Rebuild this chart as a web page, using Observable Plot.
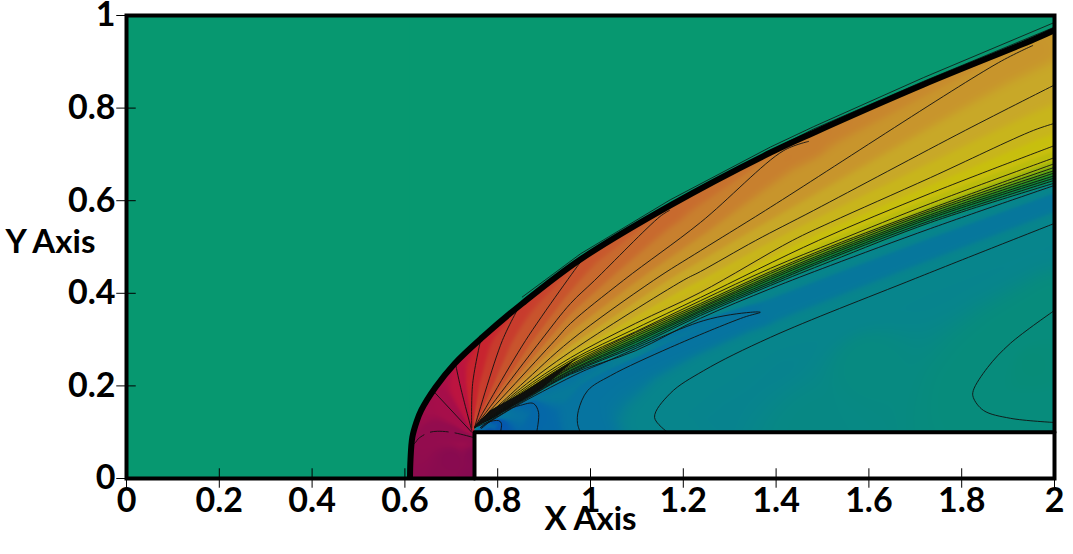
<!DOCTYPE html>
<html>
<head>
<meta charset="utf-8">
<script src="https://cdn.jsdelivr.net/npm/d3@7"></script>
<script src="https://cdn.jsdelivr.net/npm/@observablehq/plot@0.6"></script>
<style>
html,body{margin:0;padding:0;background:#fff;overflow:hidden}
svg{display:block}
</style>
</head>
<body>
<div id="chart"></div>
<script>
// ---- axes ----
const xTicks = [0,0.2,0.4,0.6,0.8,1,1.2,1.4,1.6,1.8,2];
const yTicks = [0,0.2,0.4,0.6,0.8,1];
const xTitle = "X Axis";
const yTitle = "Y Axis";

// ---- colour per contour rank ----
const ranks = [-1,0,1,2,3,4,5,6,7,8,9,10,11,12,13,14,15,16,17,18,19,20,21,22,23,24,25];
const rankColors = ["#0452b2","#0558ae","#0568a8","#0674a0","#07858c","#078c7c","#078a58","#0a8a40","#158c30","#2f9422","#509e18","#78aa10","#a0b50c","#bcbc0c","#c8bf0e","#c8b51c","#c8a828","#c8952c","#c8802e","#c86a2e","#c8542d","#c83c2d","#c8242f","#bc1440","#a60e4a","#930c4e","#860a50"];
const freeStream = "#079870";

// ---- bow shock centre line, with the field rank just behind it ----
const shockX = [0.611,0.612,0.616,0.625,0.635,0.666,0.707,0.767,0.853,0.978,1.172,1.388,1.481,1.718,1.955,2];
const shockY = [0,0.04,0.089,0.122,0.147,0.197,0.248,0.305,0.378,0.473,0.590,0.704,0.747,0.851,0.948,0.968];
const shockRank = [24.4,24.2,24,23.6,23.2,23,22,21,20,19,18,17.3,17,16.5,16,15.8];
// thin contours just ahead of the shock
const outerA = [[0.853,0.392],[0.978,0.485],[1.172,0.602],[1.388,0.716],[1.481,0.760],[1.718,0.866],[2,0.985]];
const outerB = [[1.237,0.631],[1.481,0.755],[1.718,0.858],[2,0.975]];

// ---- contours of the fan ----
const rayM2 = [[0.746,0.089],[0.705,0.099],[0.670,0.102],[0.651,0.099],[0.629,0.086],[0.623,0.078],[0.616,0.071]];
const rayM1 = [[0.744,0.100],[0.664,0.186]];
const ray0 = [[0.744,0.104],[0.720,0.197],[0.709,0.248]];
const ray1 = [[0.744,0.110],[0.746,0.205],[0.765,0.307]];
const ray2 = [[0.75,0.11],[0.81,0.298],[0.851,0.380]];
const ray3 = [[0.75,0.11],[0.86,0.298],[0.978,0.467]];
const ray4 = [[0.75,0.11],[0.893,0.298],[0.957,0.378],[1.009,0.428],[1.15,0.566],[1.17,0.579]];
const ray5 = [[0.75,0.11],[0.923,0.298],[0.957,0.335],[1.071,0.428],[1.237,0.553],[1.416,0.708],[1.47,0.728]];
const ray6 = [[0.75,0.11],[0.849,0.201],[0.957,0.298],[1.136,0.428],[1.237,0.492],[1.377,0.579],[1.879,0.898],[1.953,0.935]];
const ray7 = [[0.75,0.11],[0.849,0.194],[0.957,0.274],[1.2,0.428],[1.237,0.447],[1.356,0.514],[1.481,0.579],[1.808,0.752],[2,0.85]];
const ray8 = [[0.75,0.11],[0.849,0.189],[0.957,0.261],[1.097,0.335],[1.237,0.402],[1.435,0.514],[1.517,0.553],[1.733,0.650],[1.955,0.752],[2,0.767]];
const ray9 = [[0.75,0.11],[0.849,0.185],[0.957,0.255],[1.097,0.324],[1.237,0.391],[1.491,0.514],[1.733,0.616],[2,0.719]];
const ray10 = [[0.75,0.11],[0.849,0.181],[0.957,0.251],[1.097,0.317],[1.237,0.384],[1.388,0.454],[1.534,0.514],[1.733,0.594],[2,0.693]];

// ---- the tight bundle of contours in the shear layer ----
const bundleX = [0.75,0.784,0.849,0.957,1.097,1.237,1.388,1.517,1.733,2];
const bundle1 = [0.11,0.145,0.179,0.246,0.315,0.378,0.447,0.501,0.583,0.680];
const bundle2 = [0.11,0.143,0.177,0.243,0.311,0.374,0.443,0.497,0.579,0.672];
const bundle3 = [0.11,0.140,0.175,0.240,0.307,0.370,0.438,0.492,0.575,0.665];
const bundle4 = [0.11,0.138,0.173,0.238,0.302,0.367,0.434,0.488,0.570,0.660];
const bundle5 = [0.11,0.136,0.172,0.234,0.298,0.363,0.430,0.484,0.566,0.654];
const bundle6 = [0.11,0.134,0.170,0.232,0.294,0.360,0.425,0.479,0.562,0.649];
const bundle7 = [0.11,0.132,0.168,0.229,0.289,0.356,0.421,0.475,0.557,0.644];
const bundle8 = [0.11,0.130,0.166,0.227,0.285,0.352,0.417,0.469,0.553,0.638];
const bundle9 = [0.11,0.125,0.164,0.225,0.276,0.346,0.410,0.460,0.540,0.633];

// ---- contours of the expansion region over the step ----
const blobA = [[0.763,0.110],[0.778,0.121],[0.802,0.125],[0.808,0.119],[0.806,0.1]];
const blobB = [[0.765,0.108],[0.813,0.145],[0.849,0.158],[0.877,0.162],[0.888,0.143],[0.884,0.1]];
const tongue = [[0.763,0.110],[0.784,0.123],[0.849,0.162],[0.978,0.229],[1.028,0.250],[1.244,0.341],[1.345,0.359],[1.366,0.359],[1.330,0.348],[1.172,0.283],[1.043,0.222],[0.994,0.190],[0.974,0.147],[0.972,0.119],[0.978,0.1]];
const wakeA = [[1.166,0.1],[1.138,0.132],[1.172,0.184],[1.244,0.233],[1.388,0.305],[1.70,0.432],[2,0.551]];
const wakeB = [[2,0.363],[1.905,0.292],[1.856,0.240],[1.825,0.19],[1.825,0.175],[1.847,0.147],[1.905,0.130],[2,0.121]];
// colour ridge of the blue band (not drawn)
const blueRidge = [[1.366,0.359],[1.668,0.475],[2,0.600]];

// ---- field samples without a drawn contour [x, y, rank] ----
const noseSamples = [[0.62,0,24.4],[0.68,0,24.7],[0.75,0,25],[0.75,0.05,25],[0.75,0.09,24.7],[0.70,0.04,24.8]];
const stepSamples = [[0.78,0.1,-0.5],[0.9,0.1,1.1],[1.5,0.1,3.5],[1.95,0.1,3.9],[2,0.1,3.9],[1.95,0.25,4.1],[1.6,0.25,3.7]];
// black core of the bundle next to the corner, narrowing to nothing
const coreX = [0.75,0.784,0.849,0.90,0.975];
const coreTop = [0.11,0.146,0.182,0.214,0.262];
const coreBottom = [0.11,0.125,0.164,0.196,0.262];

// ---- build tables from the arrays above ----
const zip = (xs, ys) => xs.map((x, i) => [x, ys[i]]);
const contours = [
  {rank:24, pts:rayM2, dash:true},
  {rank:23, pts:rayM1}, {rank:22, pts:ray0}, {rank:21, pts:ray1}, {rank:20, pts:ray2},
  {rank:19, pts:ray3}, {rank:18, pts:ray4}, {rank:17, pts:ray5}, {rank:16, pts:ray6},
  {rank:15, pts:ray7}, {rank:14, pts:ray8}, {rank:13, pts:ray9}, {rank:12, pts:ray10},
  {rank:11, pts:zip(bundleX,bundle1)}, {rank:10, pts:zip(bundleX,bundle2)},
  {rank:9, pts:zip(bundleX,bundle3)}, {rank:8, pts:zip(bundleX,bundle4)},
  {rank:7, pts:zip(bundleX,bundle5)}, {rank:6, pts:zip(bundleX,bundle6)},
  {rank:5, pts:zip(bundleX,bundle7)}, {rank:4, pts:zip(bundleX,bundle8)},
  {rank:3, pts:zip(bundleX,bundle9)},
  {rank:0, pts:blobA, low:true}, {rank:1, pts:blobB, low:true}, {rank:2, pts:tongue, low:true},
  {rank:3, pts:wakeA, low:true}, {rank:4, pts:wakeB, low:true}
];
const contourRows = contours.flatMap((c, id) => c.pts.map(([x, y]) => ({id, x, y, dash: !!c.dash})));
const shock = shockX.map((x, i) => ({x, y: shockY[i]}));
const outer = [outerA, outerB].flatMap((p, id) => p.map(([x, y]) => ({id, x, y})));
const stepOutline = [{x:0.75,y:0},{x:0.75,y:0.1},{x:2,y:0.1}];
const coreWedge = coreX.map((x, i) => ({x, y1: coreTop[i], y2: coreBottom[i]}));

// Field colour: each pixel takes a distance-weighted blend of the ranks of the contours of its zone.
const asLine = c => c.pts.map(([x, y]) => [x, y, c.rank]);
const shockLine = shockX.map((x, i) => [x, shockY[i], shockRank[i]]);
const lowerLines = [
  ...contours.filter(c => c.low).map(asLine),
  asLine({pts: bundle9.map((y, i) => [bundleX[i], y]), rank: 3}),
  blueRidge.map(([x, y]) => [x, y, 2.2]),
  ...stepSamples.map(p => [p])
];
const upperLines = [
  ...contours.filter(c => !c.low && c.rank <= 21).map(asLine),
  shockLine.slice(6)
];
const noseLines = [
  ...contours.filter(c => c.rank >= 19).map(asLine),
  shockLine,
  ...noseSamples.map(p => [p])
];
const lerp = (xs, ys, x) => {
  const i = Math.min(xs.length - 2, Math.max(0, d3.bisectRight(xs, x) - 1));
  return ys[i] + (ys[i + 1] - ys[i]) * (x - xs[i]) / (xs[i + 1] - xs[i]);
};
function field(px, py) {
  if (px < 0.6 || (px > 0.75 && py < 0.1)) return 16;
  if (py > lerp(shockX, shockY, px) + 0.02) return 16;
  const lines = px < 0.75 ? noseLines : py < lerp(bundleX, bundle9, px) ? lowerLines : upperLines;
  let sw = 0, sv = 0;
  for (const line of lines) {
    let best = Infinity, bv = line[0][2];
    if (line.length === 1) {
      const dx = px - line[0][0], dy = py - line[0][1];
      best = dx * dx + dy * dy;
    }
    for (let i = 0; i + 1 < line.length; ++i) {
      const a = line[i], b = line[i + 1];
      const ex = b[0] - a[0], ey = b[1] - a[1];
      let t = ((px - a[0]) * ex + (py - a[1]) * ey) / (ex * ex + ey * ey);
      t = t < 0 ? 0 : t > 1 ? 1 : t;
      const dx = px - a[0] - t * ex, dy = py - a[1] - t * ey;
      const d2 = dx * dx + dy * dy;
      if (d2 < best) { best = d2; bv = a[2] + t * (b[2] - a[2]); }
    }
    const w = 1 / (best * best + 1e-14);
    sw += w; sv += w * bv;
  }
  return sv / sw;
}

const fontFamily = "Lato, sans-serif";
const lineCurve = "catmull-rom";

const plot = Plot.plot({
  width: 1073, height: 554,
  marginLeft: 126, marginRight: 19, marginTop: 15, marginBottom: 76,
  x: {domain: [0, 2]},
  y: {domain: [0, 1]},
  color: {type: "linear", domain: ranks, range: rankColors, clamp: true},
  style: {background: "white", fontFamily},
  marks: [
    Plot.raster({fill: field, x1: 0, x2: 2, y1: 0, y2: 1, pixelSize: 1}),
    Plot.rect([{x1: 0, x2: shockX[0] + 0.003, y1: 0, y2: 1}], {x1: "x1", x2: "x2", y1: "y1", y2: "y2", fill: freeStream}),
    Plot.areaY(shock, {x: "x", y1: "y", y2: () => 1, fill: freeStream, curve: lineCurve}),
    Plot.rect([{x1: 0.75, x2: 2, y1: 0, y2: 0.1}], {x1: "x1", x2: "x2", y1: "y1", y2: "y2", fill: "white"}),
    Plot.areaY(coreWedge, {x: "x", y1: "y1", y2: "y2", fill: "black", fillOpacity: 0.9}),
    Plot.line(contourRows.filter(d => !d.dash), {x: "x", y: "y", z: "id", stroke: "#111", strokeWidth: 0.9, curve: lineCurve}),
    Plot.line(contourRows.filter(d => d.dash), {x: "x", y: "y", z: "id", stroke: "#111", strokeWidth: 0.9, strokeDasharray: "18 7", curve: lineCurve}),
    Plot.line(outer, {x: "x", y: "y", z: "id", stroke: "#111", strokeWidth: 0.8, clip: true}),
    Plot.line(shock, {x: "x", y: "y", stroke: "black", strokeWidth: 6, curve: lineCurve, clip: true}),
    Plot.line(stepOutline, {x: "x", y: "y", stroke: "black", strokeWidth: 4}),
    Plot.frame({stroke: "black", strokeWidth: 4}),
    Plot.ruleX(xTicks, {x: d => d, y1: () => -0.021, y2: () => 0.021, stroke: "black", strokeWidth: 1}),
    Plot.ruleY(yTicks, {y: d => d, x1: () => -0.021, x2: () => 0.021, stroke: "black", strokeWidth: 1}),
    Plot.axisX({ticks: xTicks, tickSize: 0, tickPadding: 9, fontSize: 34, fontWeight: 700, fontFamily, fill: "black", label: null, tickFormat: d => String(d)}),
    Plot.axisY({ticks: yTicks, tickSize: 0, tickPadding: 11, fontSize: 34, fontWeight: 700, fontFamily, fill: "black", label: null, tickFormat: d => String(d)}),
    Plot.text([xTitle], {x: () => 1.0, y: () => -0.0886, text: d => d, fontSize: 33, fontWeight: 700, fontFamily, fill: "black", textAnchor: "middle"}),
    Plot.text([yTitle], {x: () => -0.164, y: () => 0.51, text: d => d, fontSize: 33, fontWeight: 700, fontFamily, fill: "black", textAnchor: "middle"})
  ]
});
document.getElementById("chart").append(plot);
</script>
</body>
</html>
